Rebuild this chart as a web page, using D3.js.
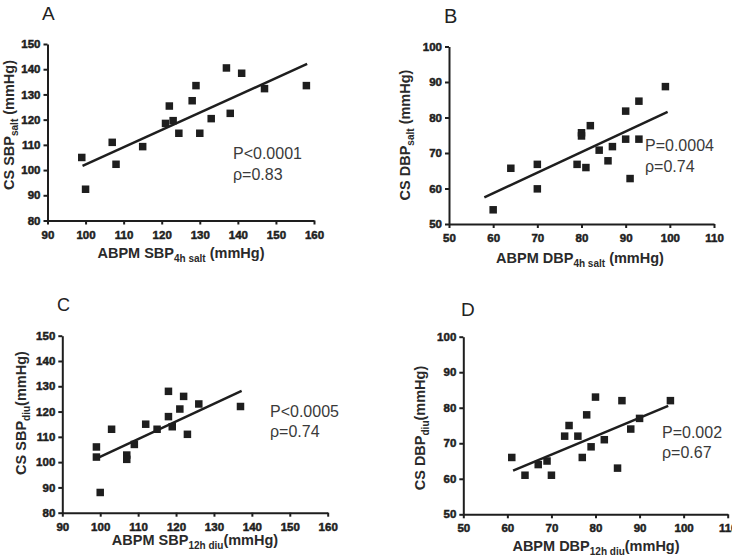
<!DOCTYPE html>
<html><head><meta charset="utf-8">
<script src="https://cdn.jsdelivr.net/npm/d3@7"></script>
<style>body{margin:0;background:#fff} svg{display:block}</style>
</head><body>
<svg id="chart" width="732" height="559"></svg>
<script>
// ---- data ----
const aX = [99,100,107,108,115,121,122,123,124.5,128,129,130,133,137,138,141,147,158];
const aY = [105,92.4,111,102.3,109.3,118.5,125.4,119.6,114.6,127.5,133.5,114.6,120.4,140.5,122.5,138.4,132.3,133.5];
const aFit = [[99.2,101.7],[158.2,142.1]];

const bX = [60,64,70,70,79,80,80,81,82,84,86,87,90,90,91,93,93,99];
const bY = [54,65.7,66.8,59.9,66.8,75.7,74.8,65.9,77.7,70.8,67.8,71.8,81.8,73.9,62.8,84.6,73.9,88.7];
const bFit = [[58,57.5],[99.5,81.6]];

const cX = [99,99,100,103,107,107,109,112,115,118,118,119,121,122,123,126,137];
const cY = [106,102,88,113,102.8,101.1,107,115,113,128,118,114,121,126,111,123,122];
const cFit = [[99.1,101.5],[137.3,128.2]];

const dX = [61,64,67,69,70,73,74,76,77,78,79,80,82,85,86,88,90,97];
const dY = [66,61,64,65,61,72,75,72,66,78,69,83,71,63,82,74,77,82];
const dFit = [[61.3,62.3],[96.5,80.5]];

const sbpTicks = [80,90,100,110,120,130,140,150];
const dbpTicks = [50,60,70,80,90,100];
const sbpXTicks = [90,100,110,120,130,140,150,160];
const dbpXTicks = [50,60,70,80,90,100,110];

const letters = ["A","B","C","D"];
const pTexts = ["P<0.0001","P=0.0004","P<0.0005","P=0.002"];
const rhoTexts = ["\u03C1=0.83","\u03C1=0.74","\u03C1=0.74","\u03C1=0.67"];
const xTitles = [["ABPM SBP","4h salt"," (mmHg)"],["ABPM DBP","4h salt"," (mmHg)"],["ABPM SBP","12h diu","(mmHg)"],["ABPM DBP","12h diu","(mmHg)"]];
const yTitles = [["CS SBP","salt"," (mmHg)"],["CS DBP","salt"," (mmHg)"],["CS SBP","diu","(mmHg)"],["CS DBP","diu","(mmHg)"]];

// ---- layout ----
const panels = [
  {xs:aX, ys:aY, fit:aFit, xd:[90,160], yd:[80,150], xt:sbpXTicks, yt:sbpTicks,
   x0:47.5, x1:314, yb:220.5, yt0:44, letter:[42,20,19], ann:[233,159,180], xtit:[181,258], ytit:[14,125]},
  {xs:bX, ys:bY, fit:bFit, xd:[50,110], yd:[50,100], xt:dbpXTicks, yt:dbpTicks,
   x0:449, x1:714, yb:224, yt0:46.5, letter:[444,23,20], ann:[645,151,172], xtit:[580,263], ytit:[410,135]},
  {xs:cX, ys:cY, fit:cFit, xd:[90,160], yd:[80,150], xt:sbpXTicks, yt:sbpTicks,
   x0:62.3, x1:327.7, yb:512.7, yt0:335.7, letter:[57,311,18], ann:[270,417,437], xtit:[195,545], ytit:[26,413]},
  {xs:dX, ys:dY, fit:dFit, xd:[50,110], yd:[50,100], xt:dbpXTicks, yt:dbpTicks,
   x0:463.3, x1:727.7, yb:514.3, yt0:336.7, letter:[461,316,19], ann:[662,438,458], xtit:[596,551], ytit:[425,428]}
];

const svg = d3.select("#chart");
const ink = "#1e1e1e";
const tickFont = "'Liberation Sans', Arial, sans-serif";

panels.forEach((p, i) => {
  const x = d3.scaleLinear().domain(p.xd).range([p.x0, p.x1]);
  const y = d3.scaleLinear().domain(p.yd).range([p.yb, p.yt0]);
  const g = svg.append("g");

  const xa = g.append("g").attr("transform", `translate(0,${p.yb})`)
    .call(d3.axisBottom(x).tickValues(p.xt).tickSize(4).tickPadding(6).tickSizeOuter(0).tickFormat(d3.format("d")));
  const ya = g.append("g").attr("transform", `translate(${p.x0},0)`)
    .call(d3.axisLeft(y).tickValues(p.yt).tickSize(4).tickPadding(3).tickSizeOuter(0).tickFormat(d3.format("d")));
  [xa, ya].forEach(a => {
    a.attr("font-family", null).attr("font-size", null);
    a.select(".domain").attr("stroke", ink).attr("stroke-width", 2);
    a.selectAll(".tick line").attr("stroke", ink).attr("stroke-width", 2);
    a.selectAll(".tick text").attr("fill", ink).attr("stroke", ink).attr("stroke-width", 0.5)
      .style("font-family", tickFont).style("font-weight", "bold").style("font-size", "11.5px");
  });

  // regression line
  g.append("line")
    .attr("x1", x(p.fit[0][0])).attr("y1", y(p.fit[0][1]))
    .attr("x2", x(p.fit[1][0])).attr("y2", y(p.fit[1][1]))
    .attr("stroke", ink).attr("stroke-width", 2.5);

  // points
  const s = 7.5;
  g.selectAll("rect.pt").data(p.xs.map((v, k) => [v, p.ys[k]])).enter().append("rect")
    .attr("class", "pt")
    .attr("x", d => x(d[0]) - s/2).attr("y", d => y(d[1]) - s/2)
    .attr("width", s).attr("height", s).attr("fill", ink);

  // panel letter
  g.append("text").attr("x", p.letter[0]).attr("y", p.letter[1])
    .style("font-family", tickFont).style("font-size", p.letter[2] + "px").attr("fill", "#222")
    .text(letters[i]);

  // annotations
  g.append("text").attr("x", p.ann[0]).attr("y", p.ann[1])
    .style("font-family", tickFont).style("font-size", "16px").attr("fill", "#3a3a3a").text(pTexts[i]);
  g.append("text").attr("x", p.ann[0]).attr("y", p.ann[2])
    .style("font-family", tickFont).style("font-size", "16px").attr("fill", "#3a3a3a").text(rhoTexts[i]);

  // x title
  const xtt = g.append("text").attr("x", p.xtit[0]).attr("y", p.xtit[1]).attr("text-anchor", "middle")
    .style("font-family", tickFont).style("font-weight", "bold").style("font-size", "14.5px").attr("fill", "#2a2a2a");
  xtt.append("tspan").text(xTitles[i][0]);
  xtt.append("tspan").attr("dy", 3.5).style("font-size", "10px").text(xTitles[i][1]);
  xtt.append("tspan").attr("dy", -3.5).text(xTitles[i][2]);

  // y title
  const ytt = g.append("text").attr("transform", `translate(${p.ytit[0]},${p.ytit[1]}) rotate(-90)`)
    .attr("text-anchor", "middle")
    .style("font-family", tickFont).style("font-weight", "bold").style("font-size", "14.5px").attr("fill", "#2a2a2a");
  ytt.append("tspan").text(yTitles[i][0]);
  ytt.append("tspan").attr("dy", 4).style("font-size", "10px").text(yTitles[i][1]);
  ytt.append("tspan").attr("dy", -4).text(yTitles[i][2]);
});
</script>
</body></html>
